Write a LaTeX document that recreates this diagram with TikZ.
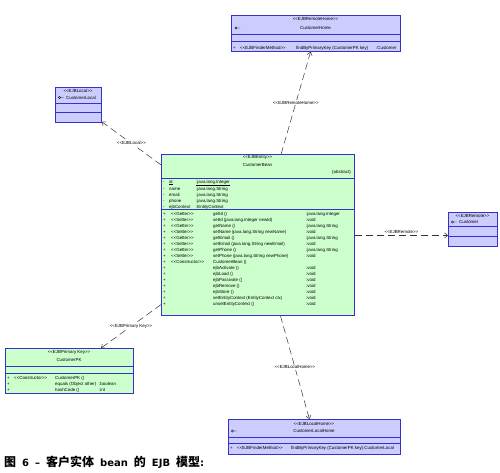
\documentclass[tikz,border=0pt]{standalone}
\usepackage{fontspec}
\setmainfont{Liberation Sans}
\newfontfamily\cjk{Noto Sans CJK SC}
\newfontfamily\capfont{DejaVu Sans}
\usetikzlibrary{arrows.meta}
\setlength{\tabcolsep}{0pt}
\newcommand{\umlsize}{\fontsize{4.4}{6}\selectfont}
\newcommand{\stereo}[1]{<{}<#1>{}>}
\newcommand{\capgap}{\hspace{6pt}}
\definecolor{umlblue}{RGB}{51,51,204}
\definecolor{umllav}{RGB}{204,204,255}
\definecolor{umlgreen}{RGB}{204,255,204}

\begin{document}
\begin{tikzpicture}[x=1pt,y=-1pt,
  lavbox/.style={draw=umlblue,fill=umllav,line width=0.8pt,inner sep=0pt,anchor=north west},
  greenbox/.style={draw=umlblue,fill=umlgreen,line width=0.8pt,inner sep=0pt,anchor=north west},
  sep/.style={draw=umlblue,line width=0.6pt},
  icon/.style={draw=black,line width=0.4pt},
  txt/.style={font=\umlsize,inner sep=0pt},
  rows/.style={font=\umlsize,inner sep=0pt,anchor=north west},
  conn/.style={draw=black!80,line width=0.5pt,dash pattern=on 7pt off 4pt,-{Straight Barb[length=3pt,width=5pt]}},
  lbl/.style={font=\umlsize,fill=white,inner sep=1pt}]
\useasboundingbox (0,0) rectangle (500,473);

\node[lavbox,minimum width=169pt,minimum height=36pt] (home) at (231,15) {};
\draw[sep] (231,34) -- (400,34);
\draw[sep] (231,41) -- (400,41);
\node[txt] (homest) at (315.5,19.5) {\stereo{EJBRemoteHome}};
\node[txt] (homename) at (315.5,27.5) {CustomerHome};
\draw[icon] (236,28) circle (1.2) (237.2,28) -- (240,28);
\node[rows] (homeops) at (233,45) {\begin{tabular}{@{}p{7pt}p{56pt}p{80pt}l@{}}
+ & \stereo{EJBFinderMethod} & findByPrimaryKey (CustomerPK key) & :Customer\end{tabular}};

\node[lavbox,minimum width=46pt,minimum height=35pt] (local) at (55,87) {};
\draw[sep] (55,103) -- (101,103);
\draw[sep] (55,112) -- (101,112);
\node[txt] (localst) at (78,91) {\stereo{EJBLocal}};
\node[txt,anchor=west] (localname) at (66,97.5) {CustomerLocal};
\draw[icon] (59.5,97.5) circle (1.2) (60.7,97.5) -- (63.5,97.5);

\node[greenbox,minimum width=193pt,minimum height=161pt] (bean) at (161,154) {};
\draw[sep] (161,178) -- (354,178);
\draw[sep] (161,209) -- (354,209);
\node[txt] (beanst) at (257.5,157.5) {\stereo{EJBEntity}};
\node[txt] (beanname) at (257.5,164.5) {CustomerBean};
\node[txt,anchor=east] (beanabs) at (351,172.5) {\{abstract\}};
\node[rows] (beanattr) at (163,178.8) {\begin{tabular}{@{}p{6pt}p{27pt}l@{}}
- & \underline{id} & \underline{:java.lang.Integer}\\
- & name & :java.lang.String\\
- & email & :java.lang.String\\
- & phone & :java.lang.String\\
- & ejbContext & :EntityContext
\end{tabular}};
\node[rows] (beanops) at (163,211.5) {\begin{tabular}{@{}p{8pt}p{42pt}p{93pt}l@{}}
+ & \stereo{Getter} & getId () & :java.lang.Integer\\
+ & \stereo{Setter} & setId (java.lang.Integer newId) & :void\\
+ & \stereo{Getter} & getName () & :java.lang.String\\
+ & \stereo{Setter} & setName (java.lang.String newName) & :void\\
+ & \stereo{Getter} & getEmail () & :java.lang.String\\
+ & \stereo{Setter} & setEmail (java.lang.String newEmail) & :void\\
+ & \stereo{Getter} & getPhone () & :java.lang.String\\
+ & \stereo{Setter} & setPhone (java.lang.String newPhone) & :void\\
+ & \stereo{Constructor} & CustomerBean () & \\
+ & & ejbActivate () & :void\\
+ & & ejbLoad () & :void\\
+ & & ejbPassivate () & :void\\
+ & & ejbRemove () & :void\\
+ & & ejbStore () & :void\\
+ & & setEntityContext (EntityContext ctx) & :void\\
+ & & unsetEntityContext () & :void
\end{tabular}};

\node[lavbox,minimum width=49pt,minimum height=34pt] (customer) at (448,212) {};
\draw[sep] (448,226) -- (497,226);
\draw[sep] (448,236) -- (497,236);
\node[txt] (customerst) at (472.5,216) {\stereo{EJBRemote}};
\node[txt,anchor=west] (customername) at (459,222) {Customer};
\draw[icon] (452.5,222) circle (1.2) (453.7,222) -- (456.5,222);
\coordinate (remoteend) at ([yshift=-6pt]customer.west);

\node[greenbox,minimum width=128pt,minimum height=45pt] (pk) at (5,348) {};
\draw[sep] (5,366) -- (133,366);
\draw[sep] (5,373) -- (133,373);
\node[txt] (pkst) at (69,352.5) {\stereo{EJBPrimary Key}};
\node[txt] (pkname) at (69,359.5) {CustomerPK};
\node[rows] (pkops) at (7,375) {\begin{tabular}{@{}p{7pt}p{41pt}p{44pt}l@{}}
+ & \stereo{Constructor} & CustomerPK () & \\
+ & & equals (Object other) & :boolean\\
+ & & hashCode () & :int
\end{tabular}};

\node[lavbox,minimum width=172pt,minimum height=35pt] (localhome) at (228,419) {};
\draw[sep] (228,437) -- (400,437);
\draw[sep] (228,443) -- (400,443);
\node[txt] (localhomest) at (314,423.5) {\stereo{EJBLocalHome}};
\node[txt] (localhomename) at (314,430.5) {CustomerLocalHome};
\draw[icon] (232.5,431) circle (1.2) (233.7,431) -- (236.5,431);
\node[rows] (localhomeops) at (230,445.5) {\begin{tabular}{@{}p{7pt}p{54pt}p{72pt}l@{}}
+ & \stereo{EJBFinderMethod} & findByPrimaryKey (CustomerPK key) & :CustomerLocal\end{tabular}};

\draw[conn] (bean) -- node[lbl] (lremotehome) {\stereo{EJBRemoteHome}} (home);
\draw[conn] (bean) -- node[lbl] (llocal) {\stereo{EJBLocal}} (local);
\draw[conn] (bean.east |- remoteend) -- node[lbl,fill=none,above=0.5pt] (lremote) {\stereo{EJBRemote}} (remoteend);
\draw[conn] (bean) -- node[lbl] (lpk) {\stereo{EJBPrimary Key}} (pk);
\draw[conn] (bean) -- node[lbl] (llocalhome) {\stereo{EJBLocalHome}} (localhome);

\node[anchor=west,inner sep=0pt] (caption) at (4,462.5) {\bfseries\fontsize{12}{14}\selectfont{\cjk 图}\capgap{\capfont\fontsize{10}{12}\selectfont 6\capgap–}\capgap{\cjk 客户实体}\capgap{\capfont\fontsize{10}{12}\selectfont bean}\capgap{\cjk 的}\capgap{\capfont\fontsize{10}{12}\selectfont EJB}\capgap{\cjk 模型}{\capfont\fontsize{10}{12}\selectfont :}};
\end{tikzpicture}
\end{document}
